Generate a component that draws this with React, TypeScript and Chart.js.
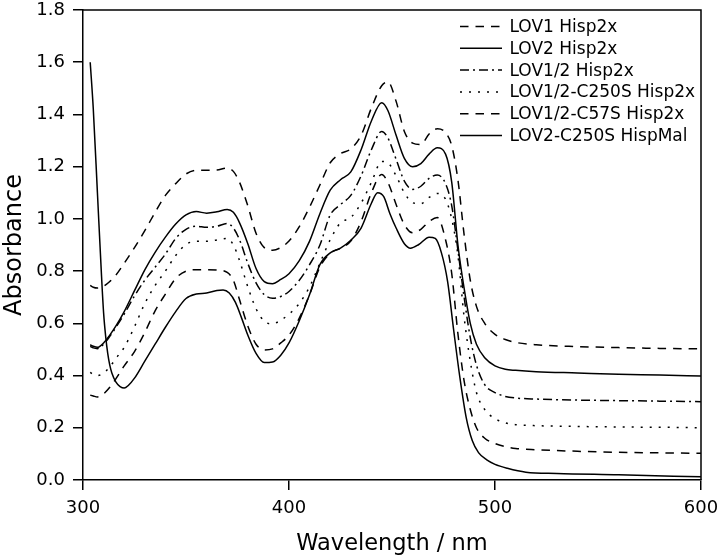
import React, { useEffect, useRef } from "react";
import { Chart, registerables } from "chart.js";

Chart.register(...registerables);

// Shared wavelength grid (nm) for the five Hisp2x spectra
const WAVELENGTH = [
  303.5, 305, 307, 310, 313, 316, 320, 325, 330, 335, 340, 345, 350, 355, 360, 365, 370, 373, 376, 380,
  384, 388, 392, 396, 400, 405, 410, 415, 420, 425, 430, 435, 440, 445, 448, 452, 456, 460, 464, 468,
  472, 476, 479, 482, 485, 488, 491, 495, 500, 505, 510, 520, 540, 560, 580, 600,
];

const LOV1_HISP2X = [
  0.745, 0.738, 0.735, 0.742, 0.76, 0.785, 0.83, 0.89, 0.955, 1.025, 1.09, 1.135, 1.172, 1.186, 1.186, 1.187, 1.195, 1.182, 1.14, 1.05,
  0.945, 0.89, 0.88, 0.89, 0.915, 0.97, 1.045, 1.13, 1.215, 1.25, 1.268, 1.32, 1.425, 1.51, 1.525, 1.45, 1.335, 1.29, 1.285, 1.325,
  1.345, 1.33, 1.28, 1.15, 0.94, 0.765, 0.665, 0.6, 0.558, 0.538, 0.527, 0.518, 0.511, 0.507, 0.504, 0.502,
];

const LOV2_HISP2X = [
  0.518, 0.512, 0.508, 0.525, 0.555, 0.59, 0.645, 0.725, 0.805, 0.872, 0.93, 0.98, 1.015, 1.028, 1.022, 1.027, 1.036, 1.025, 0.985, 0.905,
  0.81, 0.76, 0.752, 0.768, 0.79, 0.84, 0.915, 1.02, 1.11, 1.15, 1.18, 1.265, 1.375, 1.445, 1.415, 1.32, 1.232, 1.2, 1.212, 1.248,
  1.272, 1.248, 1.14, 0.9, 0.735, 0.6, 0.52, 0.468, 0.437, 0.424, 0.42, 0.415, 0.41, 0.405, 0.402, 0.398,
];

const LOV12_HISP2X = [
  0.512, 0.506, 0.503, 0.52, 0.55, 0.585, 0.635, 0.705, 0.765, 0.815, 0.865, 0.925, 0.96, 0.972, 0.968, 0.972, 0.982, 0.965, 0.92, 0.83,
  0.755, 0.71, 0.696, 0.703, 0.722, 0.765, 0.825, 0.9, 1.015, 1.055, 1.09, 1.165, 1.265, 1.335, 1.31, 1.228, 1.145, 1.113, 1.125, 1.155,
  1.168, 1.135, 1.05, 0.88, 0.7, 0.545, 0.44, 0.365, 0.335, 0.32, 0.314, 0.31, 0.306, 0.304, 0.302, 0.3,
];

const LOV12_C250S_HISP2X = [
  0.412, 0.404, 0.4, 0.41, 0.433, 0.466, 0.508, 0.587, 0.676, 0.745, 0.8, 0.86, 0.902, 0.914, 0.914, 0.919, 0.925, 0.9, 0.84, 0.74,
  0.656, 0.608, 0.598, 0.612, 0.635, 0.676, 0.74, 0.83, 0.92, 0.985, 1.005, 1.06, 1.14, 1.22, 1.215, 1.165, 1.1, 1.062, 1.058, 1.082,
  1.097, 1.075, 1.0, 0.86, 0.625, 0.455, 0.335, 0.27, 0.235, 0.219, 0.212, 0.208, 0.205, 0.203, 0.202, 0.2,
];

const LOV12_C57S_HISP2X = [
  0.325, 0.322, 0.318, 0.33, 0.355, 0.388, 0.437, 0.492, 0.565, 0.648, 0.712, 0.772, 0.8, 0.805, 0.805, 0.804, 0.795, 0.765, 0.69, 0.59,
  0.52, 0.498, 0.502, 0.525, 0.555, 0.62, 0.71, 0.815, 0.868, 0.888, 0.915, 0.99, 1.1, 1.17, 1.14, 1.055, 0.978, 0.947, 0.96, 0.99,
  1.005, 0.92, 0.79, 0.56, 0.38, 0.27, 0.2, 0.16, 0.14, 0.128, 0.121, 0.116, 0.11, 0.106, 0.104, 0.102,
];

// Own wavelength grid (nm) for the HispMal spectrum (steep start)
const HISPMAL_WAVELENGTH = [
  303.5, 305, 307, 309, 310, 311, 312, 313, 314, 316, 318, 320, 322, 325, 330, 335, 340, 345, 350, 355,
  360, 365, 368, 371, 374, 377, 380, 384, 388, 392, 396, 400, 405, 410, 415, 420, 425, 430, 435, 440,
  443, 446, 449, 452, 456, 459, 463, 468, 471, 474, 477, 480, 483, 486, 489, 492, 496, 500, 506, 515,
  530, 560, 600,
];

const LOV2_C250S_HISPMAL = [
  1.6, 1.42, 1.1, 0.78, 0.64, 0.55, 0.485, 0.44, 0.41, 0.375, 0.358, 0.352, 0.362, 0.39, 0.455, 0.52, 0.585, 0.645, 0.695, 0.712,
  0.716, 0.726, 0.728, 0.716, 0.68, 0.62, 0.555, 0.485, 0.45, 0.452, 0.478, 0.525, 0.61, 0.71, 0.825, 0.87, 0.888, 0.918, 0.965, 1.06,
  1.1, 1.085, 1.02, 0.965, 0.905, 0.888, 0.902, 0.93, 0.925, 0.87, 0.76, 0.57, 0.39, 0.24, 0.15, 0.105, 0.077, 0.06, 0.045, 0.03,
  0.025, 0.02, 0.012,
];

const SERIES_LABELS = [
  "LOV1 Hisp2x",
  "LOV2 Hisp2x",
  "LOV1/2 Hisp2x",
  "LOV1/2-C250S Hisp2x",
  "LOV1/2-C57S Hisp2x",
  "LOV2-C250S HispMal",
];

const X_TICKS = [300, 400, 500, 600];
const Y_TICKS = [0, 0.2, 0.4, 0.6, 0.8, 1.0, 1.2, 1.4, 1.6, 1.8];

const FONT = "'DejaVu Sans', 'Liberation Sans', Arial, sans-serif";

const toPoints = (xs: number[], ys: number[]) => xs.map((x, i) => ({ x, y: ys[i] }));

const legendPlugin = {
  id: "insideLegend",
  afterDraw(chart: any) {
    const { ctx, chartArea } = chart;
    ctx.save();
    // frame: top and right edges
    ctx.beginPath();
    ctx.setLineDash([]);
    ctx.lineWidth = 1.5;
    ctx.strokeStyle = "#000";
    ctx.moveTo(chartArea.left, chartArea.top);
    ctx.lineTo(chartArea.right, chartArea.top);
    ctx.lineTo(chartArea.right, chartArea.bottom);
    ctx.stroke();

    ctx.font = `17px ${FONT}`;
    ctx.textBaseline = "middle";
    ctx.textAlign = "left";
    ctx.fillStyle = "#000";
    const x0 = chartArea.right - 241;
    const x1 = chartArea.right - 199;
    const xt = chartArea.right - 191.5;
    chart.data.datasets.forEach((ds: any, i: number) => {
      const y = chartArea.top + 16.5 + i * 21.8;
      ctx.beginPath();
      ctx.setLineDash(ds.borderDash || []);
      ctx.lineWidth = ds.borderWidth;
      ctx.strokeStyle = ds.borderColor;
      ctx.moveTo(x0, y);
      ctx.lineTo(x1, y);
      ctx.stroke();
      ctx.setLineDash([]);
      ctx.fillText(ds.label, xt, y + 1);
    });
    ctx.restore();
  },
};

export default function App() {
  const canvasRef = useRef<HTMLCanvasElement | null>(null);

  useEffect(() => {
    if (!canvasRef.current) return;
    const base = {
      borderColor: "#000",
      borderWidth: 1.5,
      pointRadius: 0,
      fill: false,
      cubicInterpolationMode: "monotone" as const,
      borderJoinStyle: "round" as const,
    };
    const chart = new Chart(canvasRef.current, {
      type: "line",
      data: {
        datasets: [
          { ...base, label: SERIES_LABELS[0], data: toPoints(WAVELENGTH, LOV1_HISP2X), borderDash: [8.5, 7] },
          { ...base, label: SERIES_LABELS[1], data: toPoints(WAVELENGTH, LOV2_HISP2X), borderDash: [] },
          { ...base, label: SERIES_LABELS[2], data: toPoints(WAVELENGTH, LOV12_HISP2X), borderDash: [9, 4, 2, 4] },
          { ...base, label: SERIES_LABELS[3], data: toPoints(WAVELENGTH, LOV12_C250S_HISP2X), borderDash: [2, 7] },
          { ...base, label: SERIES_LABELS[4], data: toPoints(WAVELENGTH, LOV12_C57S_HISP2X), borderDash: [8.5, 7] },
          { ...base, label: SERIES_LABELS[5], data: toPoints(HISPMAL_WAVELENGTH, LOV2_C250S_HISPMAL), borderDash: [] },
        ],
      },
      options: {
        animation: false,
        responsive: true,
        maintainAspectRatio: false,
        layout: { padding: { top: 10, right: 19, left: 0, bottom: 0 } },
        plugins: {
          legend: { display: false },
          tooltip: { enabled: false },
        },
        scales: {
          x: {
            type: "linear",
            min: 300,
            max: 600,
            afterBuildTicks: (scale: any) => {
              scale.ticks = X_TICKS.map((v) => ({ value: v }));
            },
            afterFit: (scale: any) => {
              scale.height = 78;
              scale.paddingLeft = 0;
              scale.paddingRight = 0;
            },
            grid: { display: true, drawOnChartArea: false, drawTicks: true, tickLength: 10, color: "#000", lineWidth: 1.5 },
            border: { display: true, color: "#000", width: 1.5 },
            ticks: {
              color: "#000",
              padding: 8,
              font: { family: FONT, size: 18 },
              maxRotation: 0,
              autoSkip: false,
              callback: (v: any) => String(v),
            },
            title: {
              display: true,
              text: "Wavelength / nm",
              color: "#000",
              font: { family: FONT, size: 22.5 },
              padding: { top: 0, bottom: 0 },
            },
          },
          y: {
            type: "linear",
            min: 0,
            max: 1.8,
            afterBuildTicks: (scale: any) => {
              scale.ticks = Y_TICKS.map((v) => ({ value: v }));
            },
            afterFit: (scale: any) => {
              scale.width = 83;
              scale.paddingTop = 0;
              scale.paddingBottom = 0;
            },
            grid: { display: true, drawOnChartArea: false, drawTicks: true, tickLength: 10, color: "#000", lineWidth: 1.5 },
            border: { display: true, color: "#000", width: 1.5 },
            ticks: {
              color: "#000",
              padding: 8,
              font: { family: FONT, size: 18 },
              autoSkip: false,
              callback: (v: any) => Number(v).toFixed(1),
            },
            title: {
              display: true,
              text: "Absorbance",
              color: "#000",
              font: { family: FONT, size: 24 },
              padding: { top: 0, bottom: 0 },
            },
          },
        },
      },
      plugins: [legendPlugin],
    });
    return () => chart.destroy();
  }, []);

  return (
    <div style={{ position: "absolute", left: 0, top: 0, width: 720, height: 558, background: "#fff" }}>
      <canvas ref={canvasRef} />
    </div>
  );
}
